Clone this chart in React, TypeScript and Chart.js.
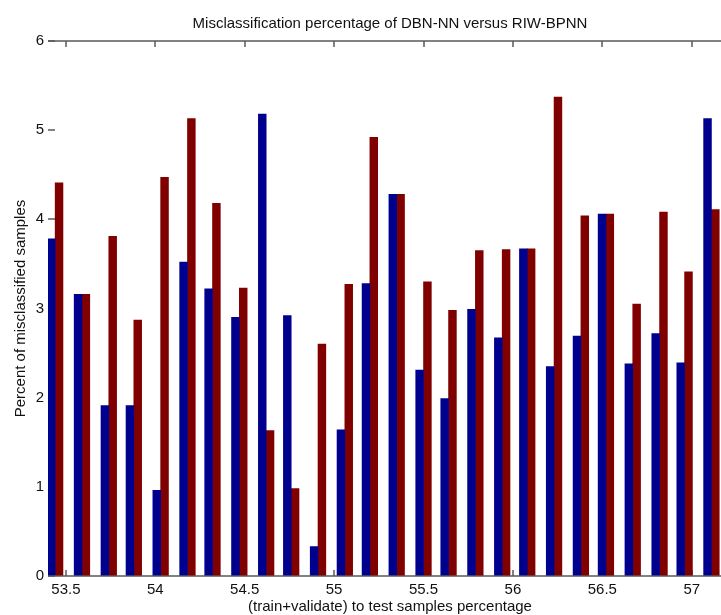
import React, { useEffect, useRef } from "react";
import { Chart, registerables } from "chart.js";

Chart.register(...registerables);

const chartTitle = "Misclassification percentage of DBN-NN versus RIW-BPNN";
const xAxisTitle = "(train+validate) to test samples percentage";
const yAxisTitle = "Percent of misclassified samples";

// (train+validate) to test samples percentage for each pair of bars
const trainPercent = [
  53.44, 53.59, 53.74, 53.88, 54.03, 54.18, 54.32, 54.47, 54.62, 54.76, 54.91, 55.06, 55.2,
  55.35, 55.5, 55.64, 55.79, 55.94, 56.08, 56.23, 56.38, 56.52, 56.67, 56.82, 56.96, 57.11,
];
// DBN-NN misclassification (%)
const dbnNN = [
  3.78, 3.16, 1.91, 1.91, 0.96, 3.52, 3.22, 2.9, 5.18, 2.92, 0.33, 1.64, 3.28,
  4.28, 2.31, 1.99, 2.99, 2.67, 3.67, 2.35, 2.69, 4.06, 2.38, 2.72, 2.39, 5.13,
];
// RIW-BPNN misclassification (%)
const riwBPNN = [
  4.41, 3.16, 3.81, 2.87, 4.47, 5.13, 4.18, 3.23, 1.63, 0.98, 2.6, 3.27, 4.92,
  4.28, 3.3, 2.98, 3.65, 3.66, 3.67, 5.37, 4.04, 4.06, 3.05, 4.08, 3.41, 4.11,
];
const xTicks = [53.5, 54, 54.5, 55, 55.5, 56, 56.5, 57];
const yTicks = [0, 1, 2, 3, 4, 5, 6];

const FONT = "'Liberation Sans', Arial, Helvetica, sans-serif";
const TEXT = "#111111";
const AXIS = "#5a5a5a";

const boxPlugin = {
  id: "matlabBox",
  beforeDatasetsDraw(chart: any) {
    const { ctx, chartArea, scales } = chart;
    const { left, top, bottom } = chartArea;
    ctx.save();
    ctx.strokeStyle = AXIS;
    ctx.lineWidth = 1.5;
    ctx.beginPath();
    xTicks.forEach((v) => {
      const px = Math.round(scales.x.getPixelForValue(v));
      ctx.moveTo(px, bottom);
      ctx.lineTo(px, bottom - 6);
      ctx.moveTo(px, top);
      ctx.lineTo(px, top + 6);
    });
    yTicks.forEach((v) => {
      const py = Math.round(scales.y.getPixelForValue(v));
      ctx.moveTo(left, py);
      ctx.lineTo(left + 7, py);
    });
    ctx.stroke();
    ctx.restore();
  },
  afterDatasetsDraw(chart: any) {
    const { ctx, chartArea } = chart;
    const { left, right, top, bottom } = chartArea;
    ctx.save();
    ctx.strokeStyle = AXIS;
    ctx.lineWidth = 1.5;
    ctx.beginPath();
    ctx.moveTo(left, top);
    ctx.lineTo(right, top);
    ctx.moveTo(left, bottom);
    ctx.lineTo(right, bottom);
    ctx.stroke();
    ctx.restore();
  },
};

export default function App() {
  const ref = useRef<HTMLCanvasElement | null>(null);

  useEffect(() => {
    if (!ref.current) return;
    const chart = new Chart(ref.current, {
      type: "bar",
      data: {
        datasets: [
          {
            label: "DBN-NN",
            data: trainPercent.map((x, i) => ({ x, y: dbnNN[i] })),
            backgroundColor: "#00008f",
            borderWidth: 0,
            barThickness: 7.8,
          },
          {
            label: "RIW-BPNN",
            data: trainPercent.map((x, i) => ({ x, y: riwBPNN[i] })),
            backgroundColor: "#800000",
            borderWidth: 0,
            barThickness: 7.8,
          },
        ],
      },
      options: {
        animation: false,
        responsive: false,
        devicePixelRatio: 1,
        layout: { padding: 0 },
        plugins: {
          legend: { display: false },
          tooltip: { enabled: false },
          title: {
            display: true,
            text: chartTitle,
            fullSize: false,
            color: TEXT,
            font: { family: FONT, size: 15, weight: "normal" },
            padding: { top: 15, bottom: 8 },
          },
        },
        scales: {
          x: {
            type: "linear",
            offset: false,
            min: 53.4,
            max: 57.225,
            grid: { display: false, drawTicks: false },
            border: { display: false },
            afterBuildTicks: (scale: any) => {
              scale.ticks = xTicks.map((value) => ({ value }));
            },
            afterFit: (scale: any) => {
              scale.height = 39;
            },
            ticks: {
              color: TEXT,
              font: { family: FONT, size: 15 },
              padding: 5,
              maxRotation: 0,
              autoSkip: false,
              callback: (v: any) => String(Math.round(Number(v) * 10) / 10),
            },
            title: {
              display: true,
              text: xAxisTitle,
              color: TEXT,
              font: { family: FONT, size: 15 },
              padding: { top: 0, bottom: -1 },
            },
          },
          y: {
            min: 0,
            max: 6,
            grid: { display: false, drawTicks: false },
            border: { display: false },
            afterBuildTicks: (scale: any) => {
              scale.ticks = yTicks.map((value) => ({ value }));
            },
            afterFit: (scale: any) => {
              scale.width = 48;
            },
            ticks: {
              color: TEXT,
              font: { family: FONT, size: 15 },
              padding: 4,
              callback: (v: any) => String(v),
            },
            title: {
              display: true,
              text: yAxisTitle,
              color: TEXT,
              font: { family: FONT, size: 15 },
              padding: { top: 12, bottom: 0 },
            },
          },
        },
      },
      plugins: [boxPlugin],
    });
    return () => chart.destroy();
  }, []);

  return (
    <div
      style={{
        position: "fixed",
        left: 0,
        top: 0,
        width: 721,
        height: 615,
        overflow: "hidden",
        background: "#ffffff",
      }}
    >
      <canvas ref={ref} width={732} height={615} style={{ display: "block", width: 732, height: 615 }} />
    </div>
  );
}
